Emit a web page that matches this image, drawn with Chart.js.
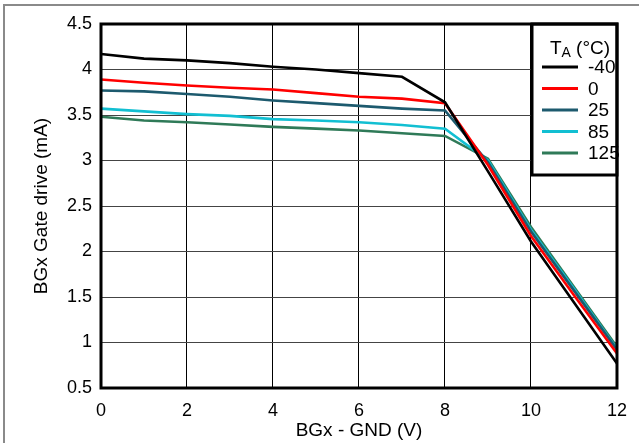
<!DOCTYPE html>
<html>
<head>
<meta charset="utf-8">
<script src="https://cdn.jsdelivr.net/npm/chart.js@4.4.1/dist/chart.umd.min.js"></script>
<style>
  html, body { margin: 0; padding: 0; background: #fff; }
  #wrap { width: 639px; height: 443px; }
</style>
</head>
<body>
<div id="wrap"><canvas id="c" width="639" height="443"></canvas></div>
<script>
// ---- data ----
const xValues = [0, 1, 2, 3, 4, 5, 6, 7, 8, 9, 10, 11, 12];
const seriesNames = ['-40', '0', '25', '85', '125'];
const tm40 = [4.17, 4.12, 4.10, 4.07, 4.03, 4.00, 3.96, 3.92, 3.64, 2.88, 2.11, 1.44, 0.77];
const t0   = [3.89, 3.855, 3.825, 3.80, 3.78, 3.74, 3.70, 3.68, 3.63, 2.95, 2.17, 1.52, 0.88];
const t25  = [3.77, 3.76, 3.73, 3.70, 3.66, 3.63, 3.60, 3.57, 3.55, 2.98, 2.22, 1.57, 0.92];
const t85  = [3.57, 3.54, 3.51, 3.49, 3.455, 3.44, 3.42, 3.39, 3.35, 3.00, 2.24, 1.59, 0.93];
const t125 = [3.48, 3.44, 3.42, 3.395, 3.37, 3.35, 3.33, 3.30, 3.27, 3.02, 2.27, 1.61, 0.95];
const xTicks = [0, 2, 4, 6, 8, 10, 12];
const yTicks = [0.5, 1, 1.5, 2, 2.5, 3, 3.5, 4, 4.5];
const xTitle = 'BGx - GND (V)';
const yTitle = 'BGx Gate drive (mA)';
const legendTitleMain = 'T';
const legendTitleSub = 'A';
const legendTitleRest = ' (°C)';

const colors = ['#000000', '#ff0000', '#1d5a6e', '#12bfd2', '#2f7a58'];
const allSeries = [tm40, t0, t25, t85, t125];

const FONT = '"Liberation Sans", Arial, sans-serif';

const datasets = allSeries.map((arr, i) => ({
  label: seriesNames[i],
  data: xValues.map((x, j) => ({ x: x, y: arr[j] })),
  borderColor: colors[i],
  backgroundColor: colors[i],
  borderWidth: 2.6,
  pointRadius: 0,
  tension: 0,
  fill: false
}));

const decor = {
  id: 'decor',
  beforeDraw(chart) {
    const ctx = chart.ctx;
    ctx.save();
    ctx.fillStyle = '#fff';
    ctx.fillRect(0, 0, chart.width, chart.height);
    ctx.restore();
  },
  afterDatasetsDraw(chart) {
    const ctx = chart.ctx;
    const a = chart.chartArea;
    ctx.save();
    // outer frame lines (gray)
    ctx.strokeStyle = '#8a8a8a';
    ctx.lineWidth = 2;
    ctx.beginPath();
    ctx.moveTo(4, 443); ctx.lineTo(4, 5); ctx.lineTo(639, 5);
    ctx.stroke();

    // legend box
    const lx = 532, ly = a.top, lw = a.right - 532, lh = 175 - a.top;
    ctx.fillStyle = '#fff';
    ctx.fillRect(lx, ly, lw, lh);
    ctx.strokeStyle = '#000';
    ctx.lineWidth = 3;
    ctx.strokeRect(lx, ly, lw, lh);

    // plot border
    ctx.lineWidth = 3;
    ctx.strokeRect(a.left, a.top, a.right - a.left, a.bottom - a.top);

    // legend title
    ctx.fillStyle = '#000';
    ctx.textBaseline = 'alphabetic';
    ctx.font = '19px ' + FONT;
    const w1 = ctx.measureText(legendTitleMain).width;
    const w3 = ctx.measureText(legendTitleRest).width;
    ctx.font = '14px ' + FONT;
    const w2 = ctx.measureText(legendTitleSub).width;
    const total = w1 + w2 + w3;
    let tx = 580 - total / 2;
    const tb = 54;
    ctx.font = '19px ' + FONT;
    ctx.textAlign = 'left';
    ctx.fillText(legendTitleMain, tx, tb);
    tx += w1;
    ctx.font = '14px ' + FONT;
    ctx.fillText(legendTitleSub, tx, tb + 3);
    tx += w2;
    ctx.font = '19px ' + FONT;
    ctx.fillText(legendTitleRest, tx, tb);

    // legend entries
    const rows = [67, 88.5, 110, 131.5, 153];
    ctx.textBaseline = 'middle';
    seriesNames.forEach((n, i) => {
      ctx.strokeStyle = colors[i];
      ctx.lineWidth = 3;
      ctx.beginPath();
      ctx.moveTo(542, rows[i]);
      ctx.lineTo(578, rows[i]);
      ctx.stroke();
      ctx.fillStyle = '#000';
      ctx.font = '19px ' + FONT;
      ctx.fillText(n, 588, rows[i] + 1);
    });

    // axis titles
    ctx.fillStyle = '#000';
    ctx.font = '19px ' + FONT;
    ctx.textAlign = 'center';
    ctx.textBaseline = 'middle';
    ctx.fillText(xTitle, (a.left + a.right) / 2, 431);
    ctx.save();
    ctx.translate(42, (a.top + a.bottom) / 2);
    ctx.rotate(-Math.PI / 2);
    ctx.fillText(yTitle, 0, 0);
    ctx.restore();
    ctx.restore();
  }
};

new Chart(document.getElementById('c'), {
  type: 'line',
  data: { datasets: datasets },
  options: {
    responsive: false,
    animation: false,
    devicePixelRatio: 1,
    layout: { padding: { left: 0, right: 10, top: 24, bottom: 0 } },
    plugins: { legend: { display: false }, tooltip: { enabled: false } },
    scales: {
      x: {
        type: 'linear',
        min: 0, max: 12,
        afterBuildTicks: (s) => { s.ticks = xTicks.map(v => ({ value: v })); },
        afterFit: (s) => { s.height = 55; },
        grid: { color: '#000', lineWidth: 1, drawTicks: false },
        border: { display: false },
        ticks: { color: '#000', font: { family: FONT, size: 18 }, padding: 12, maxRotation: 0,
                 callback: (v) => String(v) }
      },
      y: {
        type: 'linear',
        min: 0.5, max: 4.5,
        afterBuildTicks: (s) => { s.ticks = yTicks.map(v => ({ value: v })); },
        afterFit: (s) => { s.width = 101; },
        grid: { color: '#444', lineWidth: 1, drawTicks: false },
        border: { display: false },
        ticks: { color: '#000', font: { family: FONT, size: 18 }, padding: 9,
                 callback: (v) => String(v) }
      }
    }
  },
  plugins: [decor]
});
</script>
</body>
</html>
